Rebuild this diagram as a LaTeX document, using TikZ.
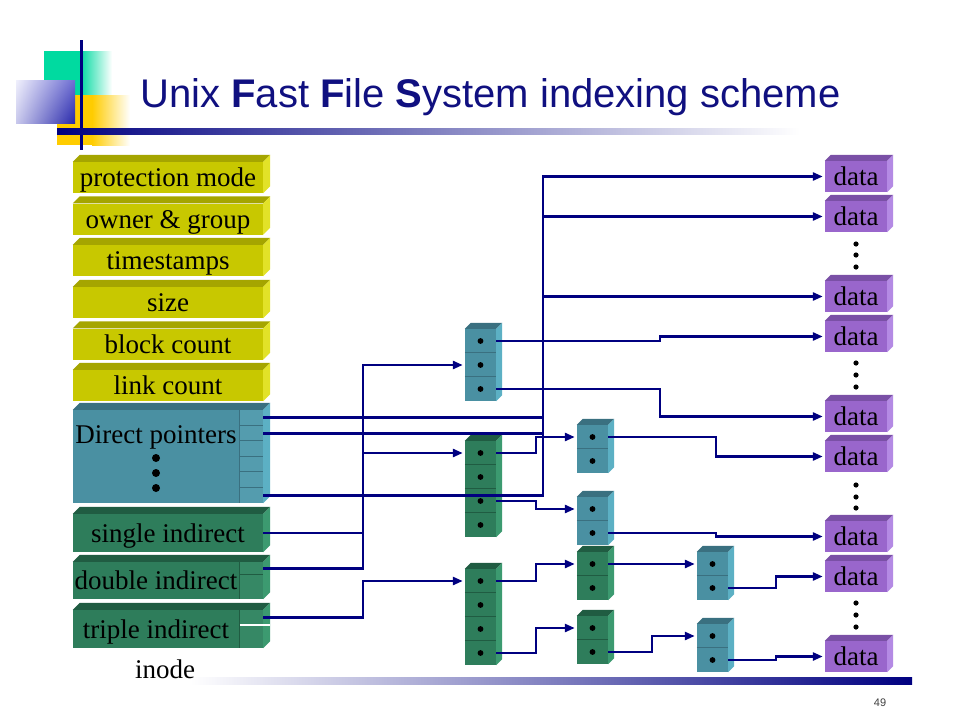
\documentclass[tikz,border=0pt]{standalone}
\usepackage{fontspec}
\setmainfont{Liberation Serif}
\newfontfamily\arialf{Liberation Sans}
\usetikzlibrary{arrows.meta,calc,shadings}
\definecolor{lnavy}{RGB}{0,0,128}
\definecolor{ttlblue}{RGB}{16,16,128}
\definecolor{yelF}{RGB}{200,200,0}
\definecolor{yelT}{RGB}{165,165,0}
\definecolor{yelS}{RGB}{226,226,40}
\definecolor{tealF}{RGB}{74,144,162}
\definecolor{tealT}{RGB}{58,112,128}
\definecolor{tealS}{RGB}{92,176,196}
\definecolor{tealC}{RGB}{84,156,174}
\definecolor{grnF}{RGB}{46,125,91}
\definecolor{grnT}{RGB}{32,92,66}
\definecolor{grnS}{RGB}{60,154,112}
\definecolor{grnC}{RGB}{54,136,101}
\definecolor{purF}{RGB}{153,102,204}
\definecolor{purT}{RGB}{122,80,166}
\definecolor{purS}{RGB}{180,138,228}
\definecolor{decoG}{RGB}{0,218,160}
\definecolor{decoY}{RGB}{255,204,0}
\definecolor{bUL}{RGB}{240,240,252}
\definecolor{bUR}{RGB}{110,110,210}
\definecolor{bLL}{RGB}{200,200,236}
\definecolor{bLR}{RGB}{40,40,170}
\newcommand{\bev}[4]{%
  \fill[#2] (#1.north west) -- ++(#4,-#4) -- ($(#1.north east)+(#4,-#4)$) -- (#1.north east) -- cycle;
  \fill[#3] (#1.north east) -- ++(#4,-#4) -- ($(#1.south east)+(#4,-#4)$) -- (#1.south east) -- cycle;}
\newcommand{\blk}[7]{%
  \foreach \k in {1,...,#4}{%
    \node[slot,fill=#5] (#1\k) at ({#2+15.5},{#3+(\k-1)*24}) {};
    \fill[black] (#1\k.center) circle (2.9);
  }
  \foreach \k in {2,...,#4}{%
    \draw[#6,line width=0.7pt] (#1\k.north west) -- (#1\k.north east);
  }
  \fill[#6] (#11.north west) -- ++(6,-6) -- ($(#11.north east)+(6,-6)$) -- (#11.north east) -- cycle;
  \fill[#7] (#11.north east) -- ++(6,-6) -- ($(#1#4.south east)+(6,-6)$) -- (#1#4.south east) -- cycle;
}
\begin{document}
\begin{tikzpicture}[x=1pt,y=-1pt,
  ptr/.style={draw=lnavy,line width=2.6pt},
  arr/.style={ptr,-{Triangle[length=10pt,width=8pt]},shorten >=2pt},
  lbl/.style={font=\fontsize{27}{27}\selectfont,text height=21pt,text depth=3pt,inner sep=0pt},
  ibox/.style={rectangle,minimum width=190pt,minimum height=31pt,inner sep=0pt,lbl},
  dbox/.style={rectangle,minimum width=62pt,minimum height=31pt,inner sep=0pt,fill=purF,
    font=\fontsize{27}{27}\selectfont,text height=21pt,text depth=3pt},
  slot/.style={rectangle,minimum width=31pt,minimum height=24pt,inner sep=0pt},
  dcol/.style={rectangle,minimum width=23pt,inner sep=0pt}]
\useasboundingbox (0,0) rectangle (960,720);
\fill[white] (0,0) rectangle (960,720);

% decoration
\fill[decoG] (44,51) rectangle (80,95);
\shade[left color=decoG,right color=white] (80,51) rectangle (112,95);
\fill[decoY] (57,95) rectangle (92,145);
\shade[left color=decoY,right color=white] (92,95) rectangle (130,145);
\shade[upper left=bUL,upper right=bUR,lower left=bLL,lower right=bLR] (16,80) rectangle (75,123);
\draw[lnavy,line width=3pt] (81,40) -- (81,150);
\shade[left color=lnavy,right color=white] (57,128) rectangle (800,134);
\shade[left color=white,right color=lnavy] (190,677) rectangle (912,684);

\node[font=\arialf\fontsize{40}{40}\selectfont,text=ttlblue,anchor=base west,inner sep=0pt] (title) at (140,107)
  {Unix \textbf{F}ast \textbf{F}ile \textbf{S}ystem indexing scheme};
\node[font=\arialf\fontsize{11}{11}\selectfont,text=black!75] (pg) at (880,703) {49};

% inode
\foreach \n/\y/\t in {pm/177.5/protection mode,og/219/owner \& group,ts/260.5/timestamps,sz/302.5/size,bc/344/block count,lc/385.5/link count}{%
  \node[ibox,fill=yelF] (\n) at (168,\y) {\t};
  \bev{\n}{yelT}{yelS}{7}
}
\node[ibox,fill=tealF,minimum height=93pt] (dp) at (168,456.5) {};
\bev{dp}{tealT}{tealS}{7}
\foreach \k/\y in {1/417.75,2/433.25,3/448.75,4/464.25,5/479.75,6/495.25}{%
  \node[dcol,fill=tealC,minimum height=15.5pt] (dp\k) at (251.5,\y) {};
}
\foreach \k in {2,...,6}{\draw[tealT,line width=0.7pt] (dp\k.north west) -- (dp\k.north east);}
\draw[tealT,line width=0.7pt] (dp1.north west) -- (dp6.south west);
\node[lbl] (dpt) at (156,434) {Direct pointers};
\foreach \y in {458,473,488}{\fill (156,\y) circle (4);}

\node[ibox,fill=grnF,minimum height=38pt] (si) at (168,533) {single indirect};
\bev{si}{grnT}{grnS}{7}
\node[ibox,fill=grnF,minimum height=37pt] (di) at (168,580.5) {};
\bev{di}{grnT}{grnS}{7}
\node[dcol,fill=grnC,minimum height=13pt] (db1) at (251.5,568.5) {};
\node[dcol,fill=grnC,minimum height=24pt] (db2) at (251.5,587) {};
\draw[grnT,line width=0.7pt] (db2.north west) -- (db2.north east);
\draw[grnT,line width=0.7pt] (db1.north west) -- (db2.south west);
\node[lbl] (dit) at (156,580.5) {double indirect};
\node[ibox,fill=grnF,minimum height=38pt] (ti) at (168,629) {};
\bev{ti}{grnT}{grnS}{7}
\node[dcol,fill=grnC,minimum height=15pt] (tr1) at (251.5,617.5) {};
\node[dcol,fill=grnC,minimum height=23pt] (tr2) at (251.5,636.5) {};
\draw[grnT,line width=0.7pt] (tr1.north west) -- (tr2.south west);
\draw[white,line width=2pt] (tr2.north west) -- ($(tr2.north east)+(7,0)$);
\node[lbl] (tit) at (156,629) {triple indirect};
\node[lbl] (inode) at (165,669) {inode};

% blocks
\blk{A}{465}{341}{3}{tealF}{tealT}{tealS}
\blk{B}{465}{453}{4}{grnF}{grnT}{grnS}
\blk{E}{465}{581}{4}{grnF}{grnT}{grnS}
\blk{C}{577}{437}{2}{tealF}{tealT}{tealS}
\blk{D}{577}{509}{2}{tealF}{tealT}{tealS}
\blk{F}{577}{564}{2}{grnF}{grnT}{grnS}
\blk{G}{577}{628}{2}{grnF}{grnT}{grnS}
\blk{H}{697}{564}{2}{tealF}{tealT}{tealS}
\blk{I}{697}{636}{2}{tealF}{tealT}{tealS}

% data
\foreach \i/\t in {1/155,2/195,3/275,4/315,5/395,6/435,7/515,8/555,9/635}{%
  \node[dbox] (d\i) at (856,\t+21.5) {data};
  \bev{d\i}{purT}{purS}{6}
}
\foreach \y in {244,255,267,363,375,387,485,497,508,603,615,627}{\fill (856,\y) circle (2.6);}

% connectors
\coordinate (vx) at (543,0);
\coordinate (jA) at (363,0);
\coordinate (jR) at (660,0);
\coordinate (jB) at (536,0);
\coordinate (jC) at (716,0);
\coordinate (jG) at (652,0);
\coordinate (jH) at (776,0);
\draw[ptr] (dp1.east) -- (dp1.east -| vx);
\draw[ptr] (dp2.east) -- (dp2.east -| vx);
\draw[arr] (dp6.east) -- (dp6.east -| vx) -- (d1.west -| vx) -- (d1.west);
\draw[arr] (d2.west -| vx) -- (d2.west);
\draw[arr] (d3.west -| vx) -- (d3.west);
\draw[arr] (si.east) -- (si.east -| jA) -- (A2.west -| jA) -- (A2.west);
\draw[arr] (db1.east) -- (db1.east -| jA) -- (B1.west -| jA) -- (B1.west);
\draw[arr] (tr1.east) -- (tr1.east -| jA) -- (E1.west -| jA) -- (E1.west);
\draw[arr] (A1.east) -- (A1.east -| jR) -- (d4.west -| jR) -- (d4.west);
\draw[arr] (A3.east) -- (A3.east -| jR) -- (d5.west -| jR) -- (d5.west);
\draw[arr] (B1.east) -- (B1.east -| jB) -- (C1.west -| jB) -- (C1.west);
\draw[arr] (B3.east) -- (B3.east -| jB) -- (D1.west -| jB) -- (D1.west);
\draw[arr] (C1.east) -- (C1.east -| jC) -- (d6.west -| jC) -- (d6.west);
\draw[arr] (D2.east) -- (D2.east -| jC) -- (d7.west -| jC) -- (d7.west);
\draw[arr] (E1.east) -- (E1.east -| jB) -- (F1.west -| jB) -- (F1.west);
\draw[arr] (E4.east) -- (E4.east -| jB) -- (G1.west -| jB) -- (G1.west);
\draw[arr] (F1.east) -- (H1.west);
\draw[arr] (G2.east) -- (G2.east -| jG) -- (I1.west -| jG) -- (I1.west);
\draw[arr] (H2.east) -- (H2.east -| jH) -- (d8.west -| jH) -- (d8.west);
\draw[arr] (I2.east) -- (I2.east -| jH) -- (d9.west -| jH) -- (d9.west);
\end{tikzpicture}
\end{document}
